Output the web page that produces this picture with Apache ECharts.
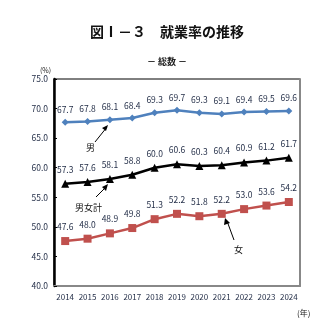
<!DOCTYPE html>
<html><head><meta charset="utf-8">
<script src="https://cdn.jsdelivr.net/npm/echarts@6/dist/echarts.min.js"></script>
<style>html,body{margin:0;padding:0;background:#fff}#c{width:334px;height:325px}</style>
</head><body><div id="c"></div>
<script>
const years = ['2014','2015','2016','2017','2018','2019','2020','2021','2022','2023','2024'];
const male = [67.7, 67.8, 68.1, 68.4, 69.3, 69.7, 69.3, 69.1, 69.4, 69.5, 69.6];
const total = [57.3, 57.6, 58.1, 58.8, 60.0, 60.6, 60.3, 60.4, 60.9, 61.2, 61.7];
const female = [47.6, 48.0, 48.9, 49.8, 51.3, 52.2, 51.8, 52.2, 53.0, 53.6, 54.2];
const FONT = '"Noto Sans CJK JP", "DejaVu Sans", sans-serif';
const lbl = (dist) => ({show:true, position:'top', distance:dist, fontSize:8.5, color:'#1f2a44', fontFamily:FONT, formatter:p=>p.value.toFixed(1)});
const chart = echarts.init(document.getElementById('c'));
chart.setOption({
  animation:false,
  title:[
    {text:'図Ⅰ－３　就業率の推移', left:'center', top:20, textStyle:{fontSize:14, fontWeight:'bold', color:'#111', fontFamily:FONT}},
    {text:'－ 総数 －', left:'center', top:52, textStyle:{fontSize:9, fontWeight:'bold', color:'#222', fontFamily:FONT}},
    {text:'(%)', left:35, top:62, textStyle:{fontSize:7, fontWeight:'normal', color:'#222', fontFamily:FONT}},
    {text:'(年)', left:292, top:304, textStyle:{fontSize:8, fontWeight:'normal', color:'#222', fontFamily:FONT}}
  ],
  grid:{left:54, right:34, top:79, bottom:39, show:true, borderColor:'#000', borderWidth:1},
  xAxis:{type:'category', data:years, boundaryGap:true,
    axisLine:{lineStyle:{color:'#888', width:2}}, axisTick:{show:false},
    axisLabel:{interval:0, fontSize:8, color:'#1f2a44', fontFamily:FONT, margin:7}},
  yAxis:[
    {type:'value', min:40, max:75, interval:5,
      axisLine:{show:true, lineStyle:{color:'#000', width:2.5}},
      axisTick:{show:true, inside:true, length:3, lineStyle:{color:'#000'}},
      splitLine:{show:false},
      axisLabel:{fontSize:8.5, color:'#1f2a44', fontFamily:FONT, margin:6, formatter:v=>v.toFixed(1)}},
    {type:'value', min:40, max:75, position:'right',
      axisLine:{show:true, lineStyle:{color:'#888', width:2}},
      axisTick:{show:false}, axisLabel:{show:false}, splitLine:{show:false}}
  ],
  series:[
    {name:'男', type:'line', data:male, symbol:'diamond', symbolSize:7,
      lineStyle:{color:'#4f81bd', width:2.5}, itemStyle:{color:'#4f81bd'}, label:lbl(5)},
    {name:'男女計', type:'line', data:total, symbol:'triangle', symbolSize:8,
      lineStyle:{color:'#000', width:2.5}, itemStyle:{color:'#000'}, label:lbl(6)},
    {name:'女', type:'line', data:female, symbol:'rect', symbolSize:8,
      lineStyle:{color:'#c0504d', width:2.5}, itemStyle:{color:'#c0504d'}, label:lbl(6)}
  ],
  graphic:[
    {type:'line', shape:{x1:95,y1:142,x2:107,y2:127}, style:{stroke:'#000', lineWidth:1}},
    {type:'polygon', shape:{points:[[108,125],[102,128],[106,131]]}, style:{fill:'#000'}},
    {type:'text', left:86, top:143, style:{text:'男', fontSize:9, fill:'#111', fontFamily:FONT}},
    {type:'line', shape:{x1:96,y1:197,x2:107,y2:186}, style:{stroke:'#000', lineWidth:1}},
    {type:'polygon', shape:{points:[[108,184],[102,187],[106,191]]}, style:{fill:'#000'}},
    {type:'text', left:75, top:203, style:{text:'男女計', fontSize:9, fill:'#111', fontFamily:FONT}},
    {type:'line', shape:{x1:234,y1:240,x2:227,y2:221}, style:{stroke:'#000', lineWidth:1}},
    {type:'polygon', shape:{points:[[225,218],[224,225],[230,223]]}, style:{fill:'#000'}},
    {type:'text', left:234, top:245, style:{text:'女', fontSize:9, fill:'#111', fontFamily:FONT}}
  ]
});
</script></body></html>
